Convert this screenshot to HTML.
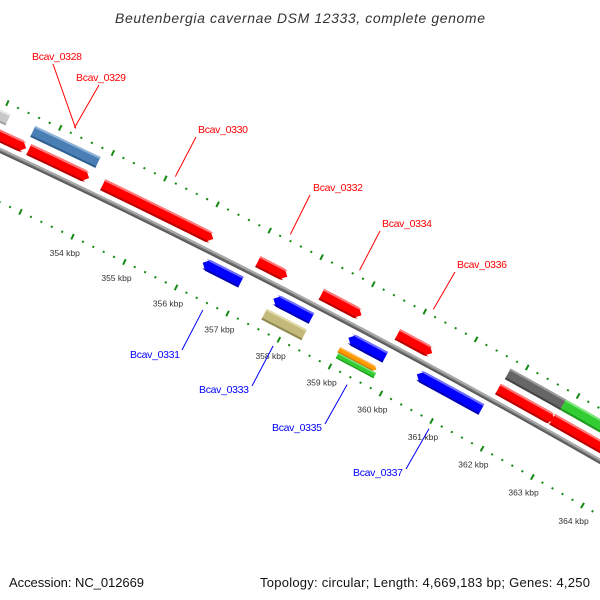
<!DOCTYPE html>
<html><head><meta charset="utf-8">
<style>
html,body{margin:0;padding:0;background:#fff;}
svg{display:block;font-family:"Liberation Sans",sans-serif;}
</style></head>
<body>
<svg id="map" width="600" height="600" viewBox="0 0 600 600" xmlns="http://www.w3.org/2000/svg">
<rect width="600" height="600" fill="#fff"/>
<text x="300" y="23" text-anchor="middle" font-size="14" font-style="italic" fill="#333" textLength="370">Beutenbergia cavernae DSM 12333, complete genome</text>
<g id="layer"></g>
<text x="9" y="587" font-size="13" fill="#111" textLength="135">Accession: NC_012669</text>
<text x="590" y="587" font-size="13" fill="#111" text-anchor="end" textLength="330">Topology: circular; Length: 4,669,183 bp; Genes: 4,250</text>
</svg>
<script>
// ---- data ----
const featNames  = ['f-left1','Bcav_0328','Bcav_0330','Bcav_0332','Bcav_0334','Bcav_0336','f-r1','f-r2','f-gray','Bcav_0329','f-darkgray','f-green','Bcav_0331','Bcav_0333','Bcav_0335','Bcav_0337','f-olive','f-orange','f-green2'];
const featStart  = [351.9, 352.67, 354.08, 357.06, 358.29, 359.77, 361.74, 362.81, 351.5, 352.6, 361.76, 362.85, 356.22, 357.59, 359.05, 360.39, 357.57, 359.0, 359.02];
const featEnd    = [352.62, 353.82, 356.2, 357.63, 359.07, 360.45, 362.85, 363.96, 352.13, 353.84, 362.85, 364.2, 356.96, 358.33, 359.77, 361.66, 358.35, 359.74, 359.76];
const featTrack  = ['f1','f1','f1','f1','f1','f1','f1','f1','f2','f2','f2','f2','r1','r1','r1','r1','r2','r2a','r2b'];
const featDir    = [1,1,1,1,1,1,1,1,0,0,0,0,-1,-1,-1,-1,0,1,0];
const featColor  = ['red','red','red','red','red','red','red','red','lgray','steel','dgray','green','blue','blue','blue','blue','olive','orange','green'];
const labelNames = ['Bcav_0328','Bcav_0329','Bcav_0330','Bcav_0332','Bcav_0334','Bcav_0336','Bcav_0331','Bcav_0333','Bcav_0335','Bcav_0337'];
const tickKbp    = [354,355,356,357,358,359,360,361,362,363,364];
const tickLabels = ['354 kbp','355 kbp','356 kbp','357 kbp','358 kbp','359 kbp','360 kbp','361 kbp','362 kbp','363 kbp','364 kbp'];

// ---- geometry (circle) ----
const CX=-3375, CY=7397, R0=7994, DEG0=-64.29, DEGPERKBP=0.4157;
const trackR={f1:[13,6],f2:[31,6],r1:[-13,6],r2:[-31,6],r2a:[-28,3],r2b:[-34,3]};
const palette={red:['#ff0000','#ff7a7a','#b80000'],blue:['#0000ff','#6f6fff','#0000b0'],steel:['#4a7fb5','#8fb3d8','#2f5f8f'],
  lgray:['#c8c8c8','#e6e6e6','#a0a0a0'],dgray:['#666666','#9a9a9a','#444444'],green:['#33cc33','#80e680','#1f9a1f'],
  olive:['#c2b97a','#e0d9a8','#8f8750'],orange:['#ff9900','#ffc266','#c77400']};
function ang(k){return (DEG0+(k-354)*DEGPERKBP)*Math.PI/180;}
function pt(k,r){const a=ang(k);return [CX+r*Math.cos(a),CY+r*Math.sin(a)];}
const NS='http://www.w3.org/2000/svg';
const layer=document.getElementById('layer');
function mk(tag,attrs){const e=document.createElementNS(NS,tag);for(const a in attrs)e.setAttribute(a,attrs[a]);return e;}
function fmt(p){return p[0].toFixed(2)+','+p[1].toFixed(2);}

// backbone
(function(){
  const parts=[[0,'#777',5],[1.4,'#aaa',2],[-1.6,'#5a5a5a',1.5]];
  parts.forEach((pp,i)=>{
    let d='';
    for(let k=350;k<=366.01;k+=0.25){d+=(d?'L':'M')+fmt(pt(k,R0+pp[0]));}
    const p=mk('path',{d:d,fill:'none',stroke:pp[1],'stroke-width':pp[2]});
    
    
    layer.appendChild(p);
  });
})();

// rulers
function ruler(rr,name){
  const g=mk('g',{});
  
  
  for(let i=0;i<=80;i++){
    const k=350+i*0.2; const major=(i%5===0);
    const h=major?3:1;
    const a=pt(k,rr-h),b=pt(k,rr+h);
    const l=mk('line',{x1:a[0],y1:a[1],x2:b[0],y2:b[1],stroke:'#138a13','stroke-width':2});
    
    
    g.appendChild(l);
  }
  layer.appendChild(g);
}
ruler(R0+46,'outer-ruler');
ruler(R0-47,'inner-ruler');

// tick labels
tickKbp.forEach((k,i)=>{
  const p=pt(k,R0-47-18);
  const t=mk('text',{x:p[0],y:p[1]+3,'text-anchor':'middle','font-size':8.5,fill:'#333'});
  t.textContent=tickLabels[i];
  
  
  layer.appendChild(t);
});

// features
function band(s,e,rIn,rOut,dir,tipK){
  // polygon along arc with optional arrow tip
  const pts=[];
  let bs=s,be=e;
  if(dir===1)be=Math.max(s,e-tipK);
  if(dir===-1)bs=Math.min(e,s+tipK);
  const n=6;
  for(let i=0;i<=n;i++)pts.push(pt(bs+(be-bs)*i/n,rOut));
  if(dir===1)pts.push(pt(e,(rIn+rOut)/2));
  for(let i=n;i>=0;i--)pts.push(pt(bs+(be-bs)*i/n,rIn));
  if(dir===-1)pts.push(pt(s,(rIn+rOut)/2));
  return pts.map(fmt).join(' ');
}
const featMid={};
featStart.forEach((s,i)=>{
  const e=featEnd[i];
  const tr=trackR[featTrack[i]];
  const rc=R0+tr[0], hw=tr[1];
  const col=palette[featColor[i]];
  const rad=ang(1)-ang(0);
  const tipK=(hw>4?6:4)/(rc*rad);
  const g=mk('g',{});
  
  
  const dir=featDir[i];
  const sIn = dir===1? -hw : (dir===-1? -hw : -hw);
  const base=mk('polygon',{points:band(s,e,rc-hw,rc+hw,dir,tipK),fill:col[0]});
  
  
  g.appendChild(base);
  const th=hw>4?2:1.2;
  const tipAdj=tipK*(th/hw);
  const hi=mk('polygon',{points:band(dir===-1?s+tipAdj:s,dir===1?e-tipAdj:e,rc+hw-th,rc+hw,dir,tipK-tipAdj),fill:col[1]});
  
  
  g.appendChild(hi);
  const sh=mk('polygon',{points:band(dir===-1?s+tipAdj:s,dir===1?e-tipAdj:e,rc-hw,rc-hw+th,dir,tipK-tipAdj),fill:col[2]});
  
  
  g.appendChild(sh);
  layer.appendChild(g);
  featMid[featNames[i]]={k:(s+e)/2,fwd:featTrack[i][0]==='f'};
});

// labels (text position, leader line from feature)
const labelX=[32,76,198,313,382,457,130,199,272,353];
const labelY=[60,81,133,191,227,268,358,393,431,476];
const lineTopX=[53,99,196,310,380,455,182,252,325,406];
const lineTopY=[64,85,137,195,231,272,350,386,424,469];
labelNames.forEach((nm,i)=>{
  const f=featMid[nm];
  const inner=pt(f.k,f.fwd?R0+52:R0-55);
  const l=mk('line',{x1:inner[0],y1:inner[1],x2:lineTopX[i],y2:lineTopY[i],stroke:f.fwd?'#ff0000':'#0000ff','stroke-width':1});
  
  
  layer.appendChild(l);
  const t=mk('text',{x:labelX[i],y:labelY[i],'font-size':10.5,fill:f.fwd?'#ff0000':'#0000ff',textLength:50});
  t.textContent=nm;
  
  
  layer.appendChild(t);
});
</script>
</body></html>
